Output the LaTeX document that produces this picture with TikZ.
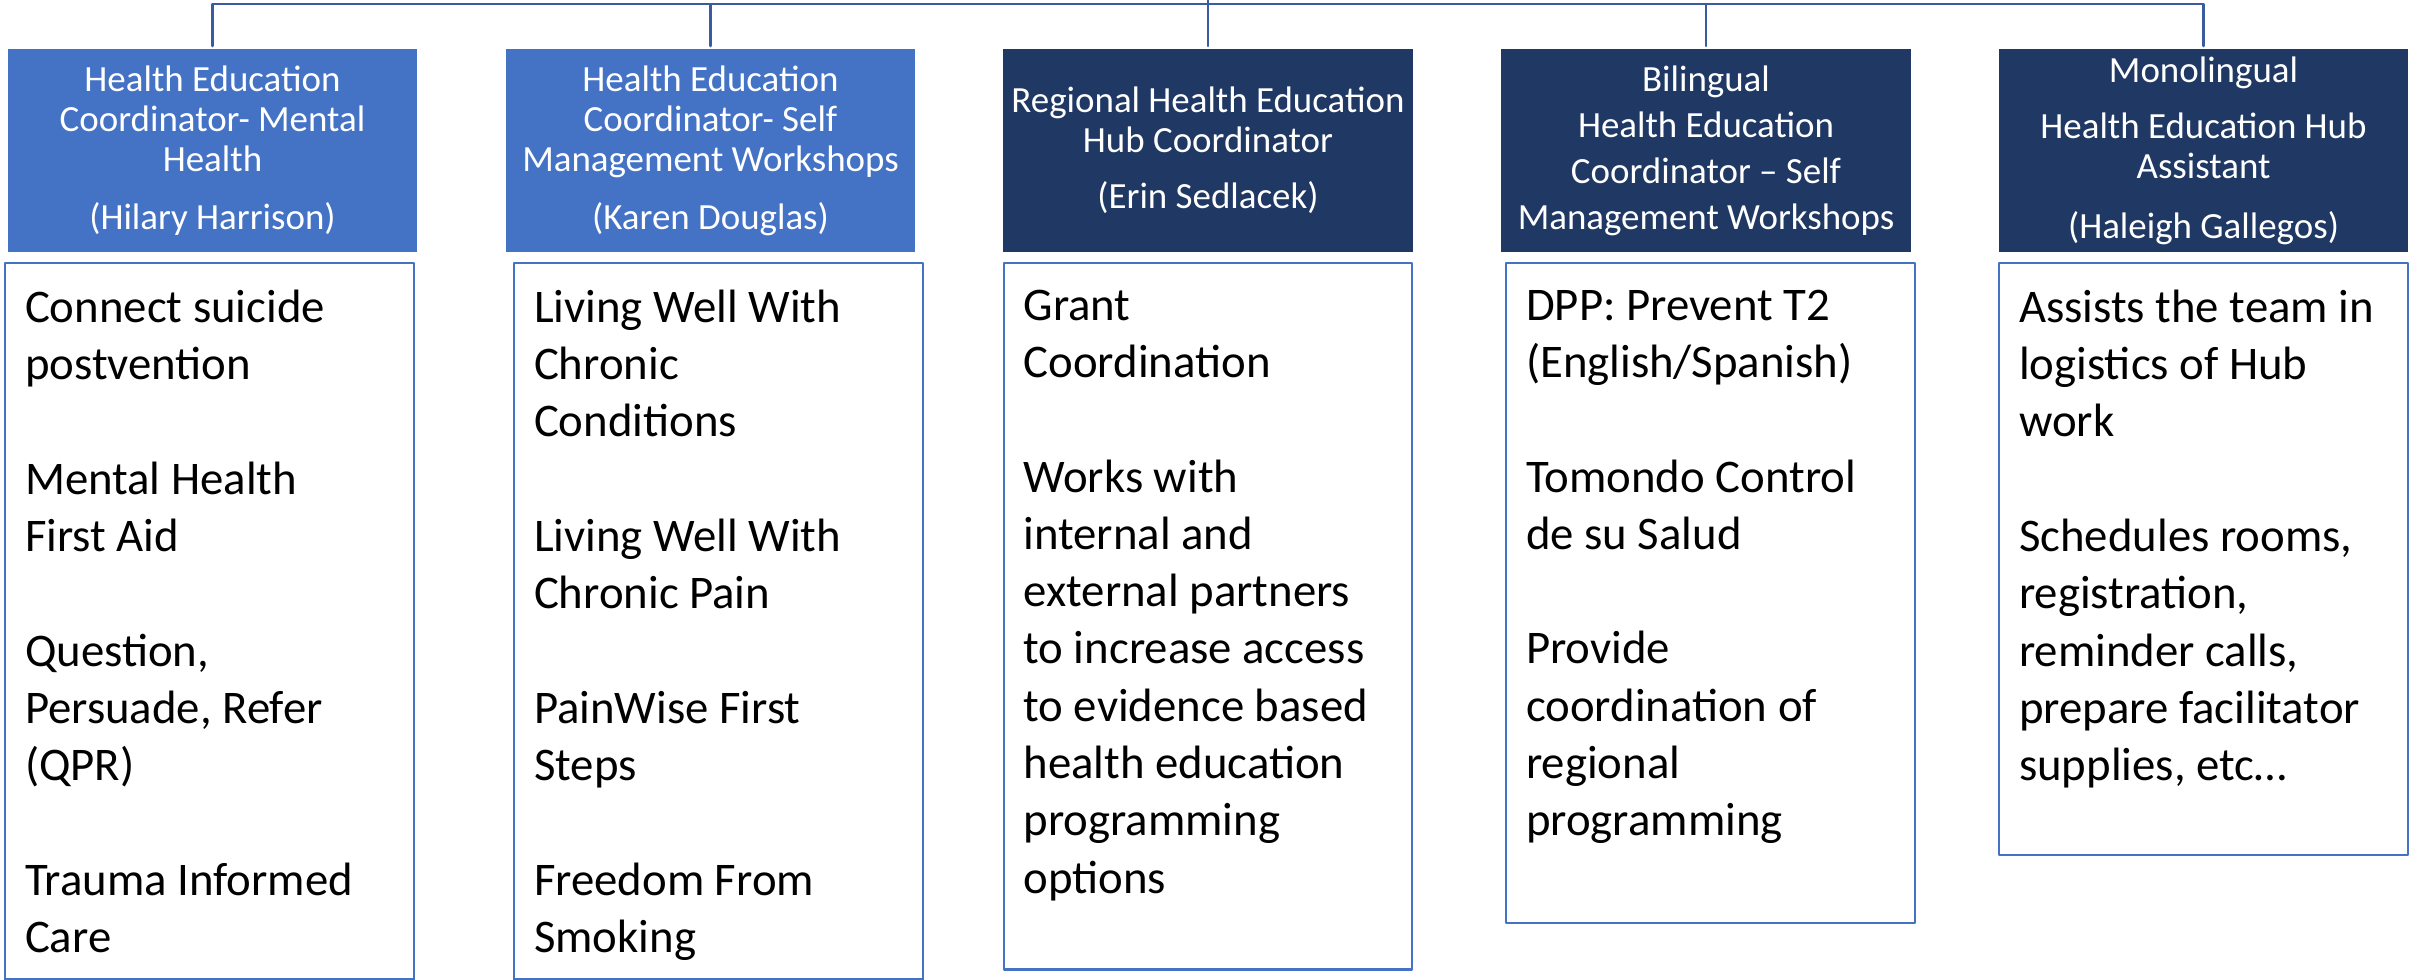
\documentclass[tikz,border=0pt]{standalone}
\usepackage{fontspec}
\setmainfont{Carlito}
\usetikzlibrary{positioning}
\definecolor{hubblue}{RGB}{68,114,196}
\definecolor{hubnavy}{RGB}{32,56,100}
\definecolor{hubline}{RGB}{58,91,160}
\begin{document}
\begin{tikzpicture}[x=0.01cm,y=-0.01cm,line join=round,line cap=round,
	head/.style={minimum width=4.09cm,minimum height=2.03cm,inner sep=0pt,outer sep=0.03cm,
		align=center,text=white,font=\fontsize{10.5}{11.4}\selectfont},
	duty/.style={draw=hubblue,line width=0.6pt,minimum width=4.08cm,inner sep=0pt,anchor=north},
	dutytext/.style={anchor=north west,align=left,inner xsep=0.2cm,inner ysep=0.27cm,
		font=\fontsize{13.3}{16.3}\selectfont},
	link/.style={draw=hubline,line width=0.8pt}]
	\def\gap{16.3pt}
	\useasboundingbox (0,0) rectangle (2410,980);
	\path (1208,0) coordinate (top)
	(1208,4) coordinate (bus);
	\node[head,fill=hubblue] (h1) at (212.5,150.5) {Health Education\\Coordinator- Mental\\Health\\[5pt](Hilary Harrison)};
	\node[head,fill=hubblue] (h2) at (710.5,150.5) {Health Education\\Coordinator- Self\\Management Workshops\\[5pt](Karen Douglas)};
	\node[head,fill=hubnavy] (h3) at (1208,150.5) {Regional Health Education\\Hub Coordinator\\[4.5pt](Erin Sedlacek)};
	\node[head,fill=hubnavy] (h4) at (1706,150.5) {Bilingual\\[1.7pt]Health Education\\[1.7pt]Coordinator – Self\\[1.7pt]Management Workshops};
	\node[head,fill=hubnavy] (h5) at (2203.5,150.5) {Monolingual\\[4.5pt]Health Education Hub\\Assistant\\[5.6pt](Haleigh Gallegos)};
	\draw[link] (h1.north) |- (bus) -| (h5.north);
	\draw[link] (h2.north) |- (bus);
	\draw[link] (h4.north) |- (bus);
	\draw[link] (top) -- (h3.north);
	\node[duty,minimum height=7.16cm] (d1) at (209.5,262) {};
	\node[duty,minimum height=7.16cm] (d2) at (718.5,262) {};
	\node[duty,minimum height=7.06cm] (d3) at (1208,262) {};
	\node[duty,minimum height=6.60cm] (d4) at (1710.5,262) {};
	\node[duty,minimum height=5.92cm] (d5) at (2203.5,262) {};
	\node[dutytext] (t1) at (d1.north west) {Connect suicide\\postvention\\[\gap]Mental Health\\First Aid\\[\gap]Question,\\Persuade, Refer\\(QPR)\\[\gap]Trauma Informed\\Care};
	\node[dutytext] (t2) at (d2.north west) {Living Well With\\Chronic\\Conditions\\[\gap]Living Well With\\Chronic Pain\\[\gap]PainWise First\\Steps\\[\gap]Freedom From\\Smoking};
	\node[dutytext] (t3) at (d3.north west) {Grant\\Coordination\\[\gap]Works with\\internal and\\external partners\\to increase access\\to evidence based\\health education\\programming\\options};
	\node[dutytext] (t4) at (d4.north west) {DPP: Prevent T2\\(English/Spanish)\\[\gap]Tomondo Control\\de su Salud\\[\gap]Provide\\coordination of\\regional\\programming};
	\node[dutytext] (t5) at (d5.north west) {Assists the team in\\logistics of Hub\\work\\[\gap]Schedules rooms,\\registration,\\reminder calls,\\prepare facilitator\\supplies, etc…};
\end{tikzpicture}
\end{document}
